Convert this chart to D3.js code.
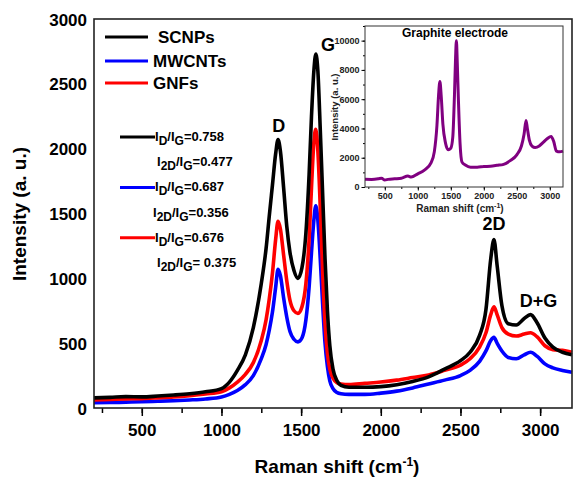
<!DOCTYPE html>
<html>
<head>
<meta charset="utf-8">
<script src="https://cdn.jsdelivr.net/npm/d3@7"></script>
<style>
    body { margin: 0; background: #fff; }
    svg { font-family: "Liberation Sans", Arial, sans-serif; font-weight: bold; }
</style>
</head>
<body>
<div id="chart"></div>
<script>
/* Raman spectra, values */
const shift = [200, 300, 400, 500, 600, 700, 800, 900, 1000, 1050, 1100, 1150, 1200, 1250, 1280, 1300, 1320, 1340, 1355, 1370, 1390, 1410, 1430, 1455, 1480, 1505, 1530, 1550, 1565, 1580, 1592, 1605, 1620, 1635, 1650, 1665, 1680, 1700, 1725, 1750, 1800, 1900, 2000, 2100, 2200, 2300, 2400, 2500, 2560, 2620, 2660, 2690, 2710, 2730, 2760, 2800, 2850, 2900, 2940, 2980, 3030, 3080, 3140, 3200];

const scnps = [78, 82, 88, 86, 92, 100, 110, 125, 150, 200, 290, 410, 620, 960, 1230, 1480, 1720, 1960, 2070, 1980, 1700, 1400, 1200, 1060, 1000, 1080, 1350, 1800, 2250, 2600, 2730, 2600, 2150, 1650, 1150, 750, 480, 300, 210, 175, 160, 160, 165, 180, 205, 240, 300, 365, 430, 560, 760, 1150, 1300, 1100, 790, 650, 640, 690, 720, 660, 540, 470, 430, 410];

const gnfs = [62, 66, 70, 72, 78, 85, 95, 108, 125, 155, 200, 260, 350, 520, 680, 840, 1040, 1300, 1440, 1380, 1180, 980, 830, 750, 730, 780, 960, 1300, 1700, 2050, 2150, 1980, 1550, 1050, 650, 420, 300, 230, 195, 185, 180, 190, 200, 215, 235, 255, 290, 330, 380, 470, 580, 720, 780, 720, 620, 570, 555, 570, 580, 550, 480, 450, 445, 430];

const mwcnts = [40, 42, 45, 48, 52, 56, 62, 70, 85, 105, 135, 180, 250, 380, 490, 600, 740, 930, 1070, 1020, 850, 700, 590, 530, 510, 540, 680, 930, 1200, 1450, 1560, 1450, 1150, 800, 500, 320, 210, 150, 120, 110, 105, 105, 115, 130, 155, 185, 215, 250, 290, 360, 440, 520, 545, 500, 440, 390, 380, 410, 430, 400, 340, 310, 290, 275];

const insetShift = [200, 300, 400, 450, 500, 550, 650, 750, 850, 900, 1000, 1100, 1200, 1250, 1290, 1315, 1335, 1355, 1380, 1420, 1460, 1500, 1530, 1555, 1572, 1585, 1598, 1615, 1640, 1670, 1720, 1800, 1900, 2000, 2100, 2200, 2300, 2400, 2500, 2570, 2610, 2640, 2660, 2690, 2730, 2780, 2840, 2900, 2960, 3020, 3060, 3100, 3150, 3200];
const graphite = [530, 520, 560, 600, 480, 520, 560, 600, 750, 680, 900, 1150, 1650, 2400, 4200, 6300, 7200, 6200, 4300, 3000, 2550, 2650, 3400, 6200, 8800, 10000, 8500, 6000, 3000, 1700, 1500, 1350, 1350, 1400, 1420, 1480, 1550, 1800, 2200, 2800, 3600, 4550, 4000, 3200, 2800, 2700, 2800, 3050, 3300, 3450, 3100, 2450, 2400, 2450];

const seriesNames = ['SCNPs', 'MWCNTs', 'GNFs'];
const seriesColors = ['#000000', '#0000ff', '#ff0000'];
const xTicks = [500, 1000, 1500, 2000, 2500, 3000];
const yTicks = [0, 500, 1000, 1500, 2000, 2500, 3000];
const insetXTicks = [500, 1000, 1500, 2000, 2500, 3000];
const insetYTicks = [0, 2000, 4000, 6000, 8000, 10000];
const ratioLabels = [
    { sub1: 'D', val: '=0.758', color: '#000000' },
    { sub1: '2D', val: '=0.477', color: null },
    { sub1: 'D', val: '=0.687', color: '#0000ff' },
    { sub1: '2D', val: '=0.356', color: null },
    { sub1: 'D', val: '=0.676', color: '#ff0000' },
    { sub1: '2D', val: '= 0.375', color: null }
];
const peakLabels = [
    { text: 'D', x: 1360, y: 2130 },
    { text: 'G', x: 1600, y: 2750 },
    { text: '2D', x: 2710, y: 1370 },
    { text: 'D+G', x: 2990, y: 780 }
];

const wSvg = 574, hSvg = 479;
const margin = { left: 94, right: 2, top: 19, bottom: 71 };

const svg = d3.select('#chart').append('svg')
    .attr('width', wSvg)
    .attr('height', hSvg);

const xScale = d3.scaleLinear([200, 3200], [margin.left, wSvg - margin.right]);
const yScale = d3.scaleLinear([0, 3000], [hSvg - margin.bottom, margin.top]);

// x axis with minor ticks
svg.append('g')
    .attr('transform', `translate(0, ${yScale(0)})`)
    .call(d3.axisBottom(xScale).tickValues(d3.range(250, 3201, 250)).tickSize(5).tickFormat(''))
    .call(g => g.select('.domain').remove())
    .call(g => g.selectAll('line').attr('stroke-width', 1.5));

svg.append('g')
    .attr('transform', `translate(0, ${yScale(0)})`)
    .call(d3.axisBottom(xScale).tickValues(xTicks).tickSize(8).tickPadding(8).tickFormat(d3.format('d')))
    .call(g => g.select('.domain').remove())
    .call(g => g.selectAll('line').attr('stroke-width', 1.5))
    .call(g => g.selectAll('text').attr('font-size', 17).attr('font-weight', 'bold').attr('fill', '#000')
        .attr('font-family', '"Liberation Sans", Arial, sans-serif'));

svg.append('g')
    .attr('transform', `translate(${margin.left}, 0)`)
    .call(d3.axisLeft(yScale).tickValues(yTicks).tickSize(0).tickPadding(7).tickFormat(d3.format('d')))
    .call(g => g.select('.domain').remove())
    .call(g => g.selectAll('text').attr('font-size', 17).attr('font-weight', 'bold').attr('fill', '#000')
        .attr('font-family', '"Liberation Sans", Arial, sans-serif').attr('dy', '0.36em'));

// spectra
const line = (xs) => d3.line()
    .x((d, i) => xScale(xs[i]))
    .y(d => yScale(d))
    .curve(d3.curveMonotoneX);

const plotArea = svg.append('g');
[[mwcnts, '#0000ff'], [gnfs, '#ff0000'], [scnps, '#000000']].forEach(([vals, col]) => {
    plotArea.append('path')
        .datum(vals)
        .attr('d', line(shift))
        .attr('fill', 'none')
        .attr('stroke', col)
        .attr('stroke-width', 3.6)
        .attr('stroke-linejoin', 'round');
});

// frame
svg.append('rect')
    .attr('x', margin.left)
    .attr('y', margin.top)
    .attr('width', wSvg - margin.right - margin.left)
    .attr('height', yScale(0) - margin.top)
    .attr('fill', 'none')
    .attr('stroke', '#222')
    .attr('stroke-width', 1.6);

// axis titles
const xLabel = svg.append('text')
    .attr('x', 337).attr('y', 473)
    .attr('text-anchor', 'middle')
    .attr('font-size', 19);
xLabel.append('tspan').text('Raman shift (cm');
xLabel.append('tspan').attr('dy', -7).attr('font-size', 12).text('-1');
xLabel.append('tspan').attr('dy', 7).text(')');

svg.append('text')
    .attr('transform', `translate(26, 214) rotate(-90)`)
    .attr('text-anchor', 'middle')
    .attr('font-size', 19)
    .text('Intensity (a. u.)');

// legend
const legend = svg.append('g');
seriesNames.forEach((name, i) => {
    const yy = [37, 61, 83][i];
    legend.append('line')
        .attr('x1', 105).attr('x2', 148)
        .attr('y1', yy).attr('y2', yy)
        .attr('stroke', seriesColors[i])
        .attr('stroke-width', 3);
    legend.append('text')
        .attr('x', i === 0 ? 158 : 153)
        .attr('y', yy + 6)
        .attr('font-size', 17)
        .text(name);
});

// ratio annotations
const ratios = svg.append('g');
ratioLabels.forEach((r, i) => {
    const base = 141 + i * 25.2;
    if (r.color) {
        ratios.append('line')
            .attr('x1', 120).attr('x2', 155)
            .attr('y1', base - 4).attr('y2', base - 4)
            .attr('stroke', r.color)
            .attr('stroke-width', 3);
    }
    const xx = r.color ? 155 : (i === 3 ? 153 : 157);
    const t = ratios.append('text').attr('x', xx).attr('y', base).attr('font-size', 13);
    t.append('tspan').text('I');
    t.append('tspan').attr('dy', 4).attr('font-size', 12).text(r.sub1);
    t.append('tspan').attr('dy', -4).text('/I');
    t.append('tspan').attr('dy', 4).attr('font-size', 12).text('G');
    t.append('tspan').attr('dy', -4).text(r.val);
});

// peak labels
peakLabels.forEach(p => {
    svg.append('text')
        .attr('x', xScale(p.x) - (p.text === 'G' ? -11 : 0))
        .attr('y', yScale(p.y))
        .attr('text-anchor', 'middle')
        .attr('font-size', 18)
        .text(p.text);
});

// inset
const inset = { left: 365, right: 563, top: 26, bottom: 187 };
const ixScale = d3.scaleLinear([200, 3200], [inset.left, inset.right]);
const iyScale = d3.scaleLinear([0, 11000], [inset.bottom, inset.top]);

svg.append('rect')
    .attr('x', inset.left).attr('y', inset.top)
    .attr('width', inset.right - inset.left)
    .attr('height', inset.bottom - inset.top)
    .attr('fill', '#fff');

svg.append('g')
    .attr('transform', `translate(0, ${inset.bottom})`)
    .call(d3.axisBottom(ixScale).tickValues(d3.range(250, 3201, 250)).tickSize(2).tickFormat(''))
    .call(g => g.select('.domain').remove());

svg.append('g')
    .attr('transform', `translate(0, ${inset.bottom})`)
    .call(d3.axisBottom(ixScale).tickValues(insetXTicks).tickSize(3.5).tickPadding(2).tickFormat(d3.format('d')))
    .call(g => g.select('.domain').remove())
    .call(g => g.selectAll('text').attr('font-size', 9).attr('font-weight', 'bold').attr('fill', '#222')
        .attr('font-family', '"Liberation Sans", Arial, sans-serif'));

svg.append('g')
    .attr('transform', `translate(${inset.left}, 0)`)
    .call(d3.axisLeft(iyScale).tickValues(d3.range(0, 11001, 1000)).tickSize(2).tickFormat(''))
    .call(g => g.select('.domain').remove());

svg.append('g')
    .attr('transform', `translate(${inset.left}, 0)`)
    .call(d3.axisLeft(iyScale).tickValues(insetYTicks).tickSize(3.5).tickPadding(2).tickFormat(d3.format('d')))
    .call(g => g.select('.domain').remove())
    .call(g => g.selectAll('text').attr('font-size', 9).attr('font-weight', 'bold').attr('fill', '#222')
        .attr('font-family', '"Liberation Sans", Arial, sans-serif'));

svg.append('path')
    .datum(graphite)
    .attr('d', d3.line()
        .x((d, i) => ixScale(insetShift[i]))
        .y(d => iyScale(d))
        .curve(d3.curveMonotoneX))
    .attr('fill', 'none')
    .attr('stroke', '#800080')
    .attr('stroke-width', 3)
    .attr('stroke-linejoin', 'round');

svg.append('rect')
    .attr('x', inset.left).attr('y', inset.top)
    .attr('width', inset.right - inset.left)
    .attr('height', inset.bottom - inset.top)
    .attr('fill', 'none')
    .attr('stroke', '#333')
    .attr('stroke-width', 1);

svg.append('text')
    .attr('x', 455).attr('y', 37)
    .attr('text-anchor', 'middle')
    .attr('font-size', 12)
    .text('Graphite electrode');

const ixLabel = svg.append('text')
    .attr('x', 460).attr('y', 212)
    .attr('text-anchor', 'middle')
    .attr('font-size', 10)
    .attr('fill', '#222');
ixLabel.append('tspan').text('Raman shift (cm');
ixLabel.append('tspan').attr('dy', -4).attr('font-size', 7).text('-1');
ixLabel.append('tspan').attr('dy', 4).text(')');

svg.append('text')
    .attr('transform', `translate(338, 107) rotate(-90)`)
    .attr('text-anchor', 'middle')
    .attr('font-size', 9.5)
    .attr('fill', '#222')
    .text('Intensity (a. u.)');
</script>
</body>
</html>
